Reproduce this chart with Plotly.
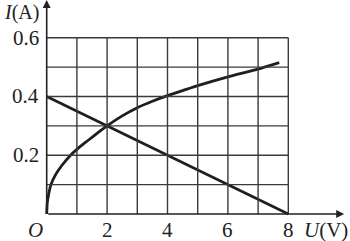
import plotly.graph_objects as go

# Data
curve_u = [0, 0.02, 0.07, 0.14, 0.3, 0.5, 0.79, 1.0, 1.25, 1.5, 1.75, 2.0, 2.5, 3.0, 3.5, 4.0, 4.5, 5.0, 6.0, 7.0, 7.7]
curve_i = [0, 0.04, 0.07, 0.10, 0.135, 0.165, 0.20, 0.22, 0.241, 0.261, 0.281, 0.30, 0.334, 0.362, 0.384, 0.403, 0.42, 0.437, 0.467, 0.493, 0.515]
line_u = [0, 8]
line_i = [0.4, 0]
x_ticks = [2, 4, 6, 8]
y_ticks = [0.2, 0.4, 0.6]
grid_x = [1, 2, 3, 4, 5, 6, 7, 8]
grid_y = [0.1, 0.2, 0.3, 0.4, 0.5, 0.6]
x_max = 8
y_max = 0.6

FONT = "Liberation Serif"
fig = go.Figure()

shapes = []
for gx in grid_x:
    shapes.append(dict(type="line", xref="x", yref="y", x0=gx, x1=gx, y0=0, y1=y_max,
                       line=dict(color="#3a3a3a", width=1.4)))
for gy in grid_y:
    shapes.append(dict(type="line", xref="x", yref="y", x0=0, x1=x_max, y0=gy, y1=gy,
                       line=dict(color="#3a3a3a", width=1.4)))

fig.add_trace(go.Scatter(x=curve_u, y=curve_i, mode="lines",
                         line=dict(color="#1e1e1e", width=2.8, shape="spline", smoothing=0.5),
                         hoverinfo="skip", showlegend=False))
fig.add_trace(go.Scatter(x=line_u, y=line_i, mode="lines",
                         line=dict(color="#1e1e1e", width=2.6),
                         hoverinfo="skip", showlegend=False))

annotations = []
# axis arrows
annotations.append(dict(x=0, y=0.728, ax=0, ay=0, xref="x", yref="y", axref="x", ayref="y",
                        showarrow=True, arrowhead=2, arrowsize=1, arrowwidth=1.6,
                        arrowcolor="#222", text=""))
annotations.append(dict(x=9.85, y=0, ax=0, ay=0, xref="x", yref="y", axref="x", ayref="y",
                        showarrow=True, arrowhead=2, arrowsize=1, arrowwidth=1.6,
                        arrowcolor="#222", text=""))
for t in y_ticks:
    annotations.append(dict(x=-0.2, y=t, xref="x", yref="y", text=f"{t:.1f}", showarrow=False,
                            xanchor="right", yanchor="middle",
                            font=dict(family=FONT, size=21, color="#222")))
for t in x_ticks:
    annotations.append(dict(x=t, y=-0.055, xref="x", yref="y", text=str(t), showarrow=False,
                            xanchor="center", yanchor="middle",
                            font=dict(family=FONT, size=21, color="#222")))
annotations.append(dict(x=-0.05, y=-0.055, xref="x", yref="y", text="<i>O</i>", showarrow=False,
                        xanchor="right", yanchor="middle",
                        font=dict(family=FONT, size=21, color="#222")))
annotations.append(dict(x=-0.2, y=0.686, xref="x", yref="y", text="<i>I</i>(A)", showarrow=False,
                        xanchor="right", yanchor="middle",
                        font=dict(family=FONT, size=20, color="#222")))
annotations.append(dict(x=8.45, y=-0.055, xref="x", yref="y", text="<i>U</i>(V)", showarrow=False,
                        xanchor="left", yanchor="middle",
                        font=dict(family=FONT, size=21, color="#222")))

px_per_u = 30.2
px_per_i = 293.8
x0_px, y0_px = 46.7, 214
fig.update_layout(
    width=350, height=241,
    margin=dict(l=0, r=0, t=0, b=0),
    paper_bgcolor="white", plot_bgcolor="white",
    xaxis=dict(range=[-x0_px / px_per_u, (350 - x0_px) / px_per_u], visible=False, fixedrange=True),
    yaxis=dict(range=[-(241 - y0_px) / px_per_i, y0_px / px_per_i], visible=False, fixedrange=True),
    shapes=shapes, annotations=annotations, showlegend=False,
)
fig.write_html("out.html")
